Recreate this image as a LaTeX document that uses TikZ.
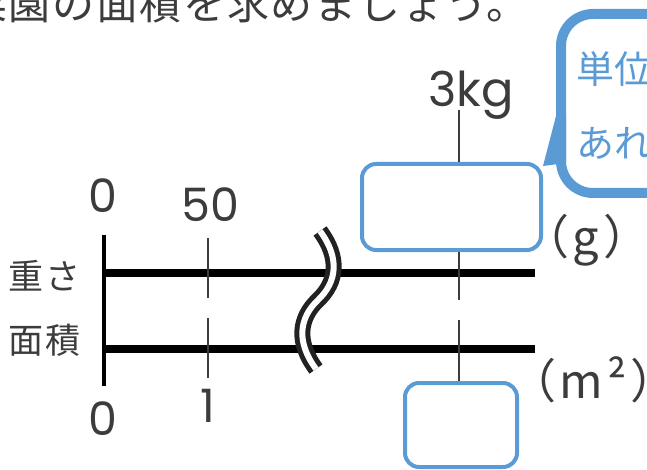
\documentclass[tikz,border=0pt]{standalone}
\usepackage{fontspec}
\setmainfont{Noto Sans CJK JP}
\newfontfamily\latinf{Poppins}
\newfontfamily\spacedjp[LetterSpace=4]{Noto Sans CJK JP}
\newfontfamily\labeljp[LetterSpace=8]{Noto Sans CJK JP}
\definecolor{blu}{HTML}{5B9BD5}
\definecolor{txt}{HTML}{3C3C3C}
\definecolor{brk}{HTML}{222222}
\begin{document}
\begin{tikzpicture}[x=1pt,y=-1pt,
  lbl/.style={text=txt, inner sep=0pt, font=\latinf\fontsize{46}{46}\selectfont},
  jlbl/.style={text=txt, inner sep=0pt, font=\labeljp\fontsize{35}{35}\selectfont},
  unitlbl/.style={text=txt, inner sep=0pt, font=\labeljp\fontsize{47}{47}\selectfont},
  axisline/.style={line width=8pt, draw=black},
  tickline/.style={line width=1.2pt, draw=txt},
  ansbox/.style={draw=blu, line width=4pt, rounded corners=14pt, inner sep=0pt},
  calltext/.style={text=blu, inner sep=0pt, font=\fontsize{38}{38}\selectfont, anchor=base west}
]
\useasboundingbox (0,0) rectangle (647,470);
\clip (0,0) rectangle (647,470);

% top sentence
\node[text=txt, inner sep=0pt, anchor=base west, font=\spacedjp\fontsize{42}{42}\selectfont] (title) at (-35,20) {菜園の面積を求めましょう。};

% callout
\draw[blu, line width=10pt, rounded corners=32pt] (561,14) rectangle (730,193);
\fill[blu] (556,116) -- (543,166) -- (566,163) -- (566,116) -- cycle;
\node[calltext] (c1) at (576,84) {単位};
\node[calltext] (c2) at (576,158) {あれ};

% axes
\coordinate (w0) at (104,272.5); \coordinate (w1) at (535,272.5);
\coordinate (a0) at (104,349);   \coordinate (a1) at (535,349);
\draw[axisline] (w0) -- (w1);
\draw[axisline] (a0) -- (a1);
\coordinate (vt) at (104,235); \coordinate (vb) at (104,386);
\draw[line width=3.5pt] (vt) -- (vb);

% tick at 50 / 1
\coordinate (t1) at (208,238); \coordinate (t2) at (208,298);
\coordinate (t3) at (208,318); \coordinate (t4) at (208,378);
\draw[tickline] (t1) -- (t2);
\draw[tickline] (t3) -- (t4);

% answer boxes
\node[ansbox, minimum width=179pt, minimum height=86pt] (box1) at (451.5,207) {};
\node[ansbox, minimum width=112pt, minimum height=84pt] (box2) at (461,425) {};

% tick at 3kg
\coordinate (k0) at (459,110);
\coordinate (k1) at (459,300);
\coordinate (k2) at (459,320);
\draw[tickline] (k0) -- (k0 |- box1.north);
\draw[tickline] (k0 |- box1.south) -- (k1);
\draw[tickline] (k2) -- (k2 |- box2.north);

% break mark
\def\brkpath{(320,231) .. controls (340,258) and (337,282) .. (318,300) .. controls (299,318) and (296,342) .. (316,369)}
\draw[brk, line width=16pt] \brkpath;
\draw[white, line width=6pt] \brkpath;

% labels
\node[lbl, anchor=base] (z0) at (102.5,213) {0};
\node[lbl, anchor=base] (n50) at (210,222) {50};
\node[lbl, anchor=base] (z1) at (103,435) {0};
\node[lbl, anchor=base] (n1) at (208,422) {1};
\node[lbl, anchor=base west, font=\latinf\fontsize{48}{48}\selectfont] (kg) at (428,107) {3kg};
\node[jlbl, anchor=base west] (omosa) at (8,289) {重さ};
\node[jlbl, anchor=base west] (menseki) at (8,353) {面積};
\node[unitlbl, anchor=base west] (ug) at (522,254) {（g）};
\node[unitlbl, anchor=base west] (um) at (509,398) {（m²）};
\end{tikzpicture}
\end{document}
